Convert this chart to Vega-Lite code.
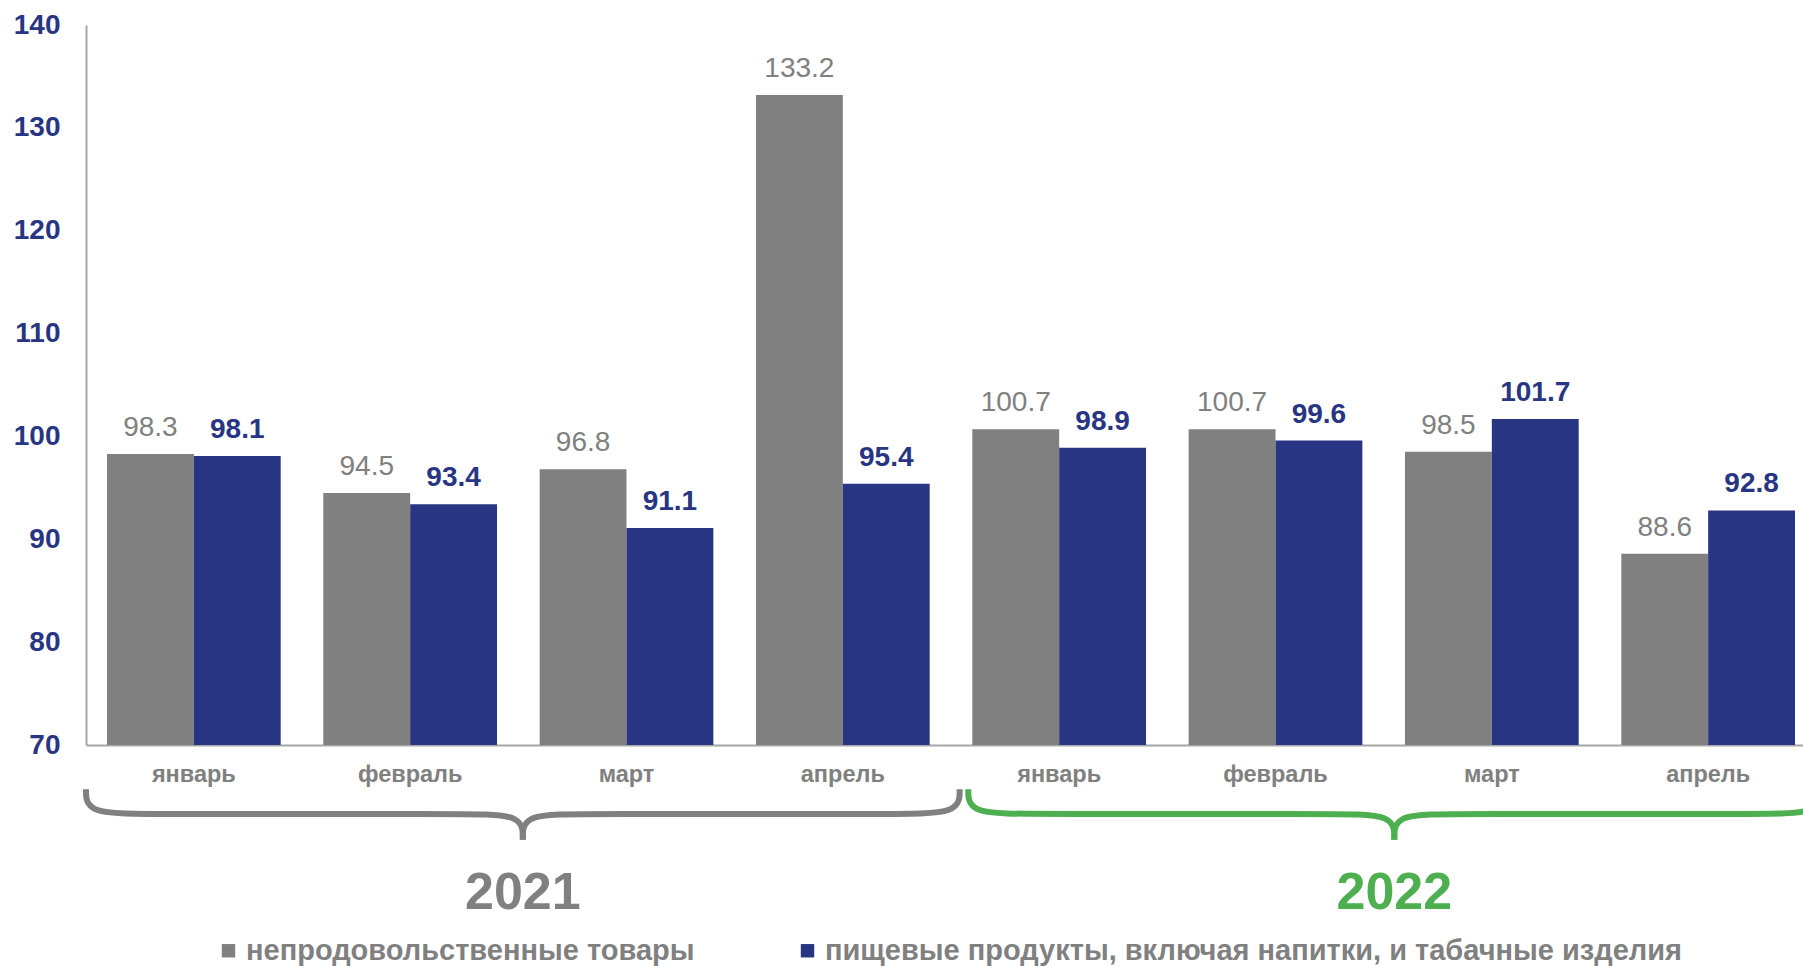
{
  "$schema": "https://vega.github.io/schema/vega-lite/v6.json",
  "width": 1730,
  "height": 720,
  "autosize": "none",
  "padding": {"left": 86, "top": 25, "right": 0, "bottom": 221},
  "background": "white",
  "config": {
    "view": {"stroke": null},
    "font": "Liberation Sans"
  },
  "datasets": {
    "bars": [
      {"period": "январь 2021", "series": "непродовольственные товары", "value": 98.3},
      {"period": "январь 2021", "series": "пищевые продукты, включая напитки, и табачные изделия", "value": 98.1},
      {"period": "февраль 2021", "series": "непродовольственные товары", "value": 94.5},
      {"period": "февраль 2021", "series": "пищевые продукты, включая напитки, и табачные изделия", "value": 93.4},
      {"period": "март 2021", "series": "непродовольственные товары", "value": 96.8},
      {"period": "март 2021", "series": "пищевые продукты, включая напитки, и табачные изделия", "value": 91.1},
      {"period": "апрель 2021", "series": "непродовольственные товары", "value": 133.2},
      {"period": "апрель 2021", "series": "пищевые продукты, включая напитки, и табачные изделия", "value": 95.4},
      {"period": "январь 2022", "series": "непродовольственные товары", "value": 100.7},
      {"period": "январь 2022", "series": "пищевые продукты, включая напитки, и табачные изделия", "value": 98.9},
      {"period": "февраль 2022", "series": "непродовольственные товары", "value": 100.7},
      {"period": "февраль 2022", "series": "пищевые продукты, включая напитки, и табачные изделия", "value": 99.6},
      {"period": "март 2022", "series": "непродовольственные товары", "value": 98.5},
      {"period": "март 2022", "series": "пищевые продукты, включая напитки, и табачные изделия", "value": 101.7},
      {"period": "апрель 2022", "series": "непродовольственные товары", "value": 88.6},
      {"period": "апрель 2022", "series": "пищевые продукты, включая напитки, и табачные изделия", "value": 92.8}
    ],
    "brace": [
      {"grp": "2021", "seg": "2021L", "ord": 1, "x": 0, "y": 65.7},
      {"grp": "2021", "seg": "2021L", "ord": 2, "x": 0, "y": 63.3},
      {"grp": "2021", "seg": "2021L", "ord": 3, "x": 0.3, "y": 63.3},
      {"grp": "2021", "seg": "2021L", "ord": 4, "x": 1.74, "y": 63.3},
      {"grp": "2021", "seg": "2021L", "ord": 5, "x": 2.02, "y": 63.3},
      {"grp": "2021", "seg": "2021L", "ord": 6, "x": 2.02, "y": 60.8},
      {"grp": "2021", "seg": "2021R", "ord": 1, "x": 2.02, "y": 60.8},
      {"grp": "2021", "seg": "2021R", "ord": 2, "x": 2.02, "y": 63.3},
      {"grp": "2021", "seg": "2021R", "ord": 3, "x": 2.3, "y": 63.3},
      {"grp": "2021", "seg": "2021R", "ord": 4, "x": 3.74, "y": 63.3},
      {"grp": "2021", "seg": "2021R", "ord": 5, "x": 4.04, "y": 63.3},
      {"grp": "2021", "seg": "2021R", "ord": 6, "x": 4.04, "y": 65.7},
      {"grp": "2022", "seg": "2022L", "ord": 1, "x": 4.08, "y": 65.7},
      {"grp": "2022", "seg": "2022L", "ord": 2, "x": 4.08, "y": 63.3},
      {"grp": "2022", "seg": "2022L", "ord": 3, "x": 4.38, "y": 63.3},
      {"grp": "2022", "seg": "2022L", "ord": 4, "x": 5.77, "y": 63.3},
      {"grp": "2022", "seg": "2022L", "ord": 5, "x": 6.05, "y": 63.3},
      {"grp": "2022", "seg": "2022L", "ord": 6, "x": 6.05, "y": 60.8},
      {"grp": "2022", "seg": "2022R", "ord": 1, "x": 6.05, "y": 60.8},
      {"grp": "2022", "seg": "2022R", "ord": 2, "x": 6.05, "y": 63.3},
      {"grp": "2022", "seg": "2022R", "ord": 3, "x": 6.33, "y": 63.3},
      {"grp": "2022", "seg": "2022R", "ord": 4, "x": 7.72, "y": 63.3},
      {"grp": "2022", "seg": "2022R", "ord": 5, "x": 8.02, "y": 63.3},
      {"grp": "2022", "seg": "2022R", "ord": 6, "x": 8.02, "y": 65.7}
    ],
    "years": [
      {"grp": "2021", "x": 2.02, "y": 55.6},
      {"grp": "2022", "x": 6.05, "y": 55.6}
    ]
  },
  "layer": [
    {
      "data": {"name": "bars"},
      "encoding": {
        "x": {
          "field": "period",
          "type": "nominal",
          "sort": null,
          "scale": {"paddingInner": 0.197, "paddingOuter": 0.097},
          "axis": {
            "title": null,
            "labelExpr": "split(datum.label, ' ')[0]",
            "labelAngle": 0,
            "labelFont": "Liberation Sans",
            "labelFontSize": 23.5,
            "labelFontWeight": "bold",
            "labelColor": "#808080",
            "labelPadding": 17,
            "ticks": false,
            "tickSize": 0,
            "domainColor": "#a6a6a6",
            "domainWidth": 2
          }
        },
        "xOffset": {
          "field": "series",
          "type": "nominal",
          "sort": null,
          "scale": {"paddingInner": 0, "paddingOuter": 0}
        },
        "y": {
          "field": "value",
          "type": "quantitative",
          "scale": {"domain": [70, 140], "zero": false, "nice": false},
          "axis": {
            "title": null,
            "values": [70, 80, 90, 100, 110, 120, 130, 140],
            "labelFont": "Liberation Sans",
            "labelFontSize": 28,
            "labelFontWeight": "bold",
            "labelColor": "#283583",
            "labelPadding": 26,
            "ticks": false,
            "tickSize": 0,
            "grid": false,
            "domainColor": "#a6a6a6",
            "domainWidth": 2
          }
        }
      },
      "layer": [
        {
          "mark": {"type": "bar"},
          "encoding": {
            "y2": {"datum": 70},
            "color": {
              "field": "series",
              "type": "nominal",
              "scale": {
                "domain": ["непродовольственные товары", "пищевые продукты, включая напитки, и табачные изделия"],
                "range": ["#808080", "#283583"]
              },
              "legend": {
                "title": null,
                "orient": "none",
                "legendX": 128,
                "legendY": 911,
                "direction": "horizontal",
                "symbolType": "square",
                "symbolSize": 180,
                "symbolStrokeWidth": 0,
                "labelFont": "Liberation Sans",
                "labelFontSize": 29,
                "labelFontWeight": "bold",
                "labelColor": "#808080",
                "labelLimit": 1000,
                "labelOffset": 3,
                "columnPadding": 98,
                "padding": 0
              }
            }
          }
        },
        {
          "transform": [{"filter": "datum.series == 'непродовольственные товары'"}],
          "mark": {"type": "text", "baseline": "alphabetic", "dy": -18, "font": "Liberation Sans", "fontSize": 28, "color": "#808080"},
          "encoding": {"text": {"field": "value", "type": "quantitative", "format": ".1f"}}
        },
        {
          "transform": [{"filter": "datum.series != 'непродовольственные товары'"}],
          "mark": {"type": "text", "baseline": "alphabetic", "dy": -18, "font": "Liberation Sans", "fontSize": 28, "fontWeight": "bold", "color": "#283583"},
          "encoding": {"text": {"field": "value", "type": "quantitative", "format": ".1f"}}
        }
      ]
    },
    {
      "encoding": {
        "x": {"field": "x", "type": "quantitative", "scale": {"domain": [0, 8], "nice": false, "zero": false}, "axis": null},
        "y": {"field": "y", "type": "quantitative"},
        "color": {
          "field": "grp",
          "type": "nominal",
          "scale": {"domain": ["2021", "2022"], "range": ["#808080", "#4daf4f"]},
          "legend": null
        }
      },
      "layer": [
        {
          "data": {"name": "brace"},
          "mark": {"type": "line", "interpolate": "basis", "strokeWidth": 6, "strokeCap": "butt"},
          "encoding": {
            "detail": {"field": "seg", "type": "nominal"},
            "order": {"field": "ord", "type": "quantitative"}
          }
        },
        {
          "data": {"name": "years"},
          "mark": {"type": "text", "baseline": "middle", "align": "center", "font": "Liberation Sans", "fontSize": 52, "fontWeight": "bold"},
          "encoding": {"text": {"field": "grp", "type": "nominal"}}
        }
      ]
    }
  ],
  "resolve": {"scale": {"x": "independent", "color": "independent"}, "axis": {"x": "independent"}}
}
